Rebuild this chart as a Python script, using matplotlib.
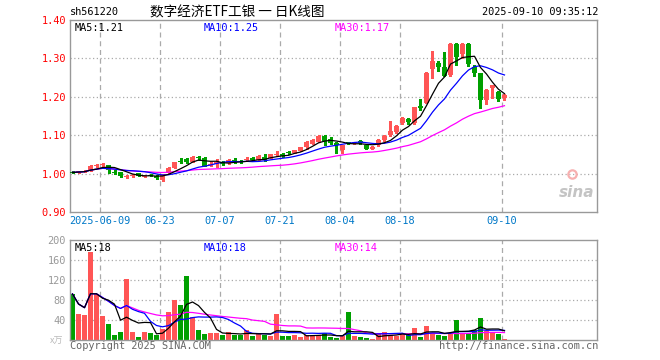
import numpy as np
import pandas as pd
import matplotlib
matplotlib.use("Agg")
import matplotlib.pyplot as plt

# -----------------------------------------
# Data (daily K-line, 73 sessions)
# -----------------------------------------
opens = [1.004, 1.004, 1.006, 1.009, 1.021, 1.023, 1.022, 1.004, 1.003, 0.993,
         0.994, 1.001, 0.993, 0.996, 0.995, 0.984, 1.001, 1.015, 1.033, 1.037,
         1.031, 1.042, 1.040, 1.024, 1.025, 1.031, 1.027, 1.036, 1.034, 1.036,
         1.041, 1.036, 1.044, 1.041, 1.050, 1.052, 1.055, 1.054, 1.060, 1.069,
         1.077, 1.082, 1.099, 1.090, 1.080, 1.062, 1.081, 1.080, 1.086, 1.074,
         1.065, 1.074, 1.087, 1.100, 1.108, 1.131, 1.142, 1.131, 1.176, 1.185,
         1.273, 1.287, 1.278, 1.256, 1.338, 1.311, 1.338, 1.278, 1.261, 1.192,
         1.222, 1.213, 1.196]
closes = [1.003, 1.005, 1.007, 1.021, 1.022, 1.024, 1.009, 1.003, 0.994, 0.994,
          0.995, 0.994, 0.994, 0.995, 0.989, 0.997, 1.015, 1.030, 1.032, 1.029,
          1.044, 1.041, 1.021, 1.025, 1.030, 1.025, 1.036, 1.031, 1.030, 1.037,
          1.035, 1.047, 1.036, 1.051, 1.051, 1.046, 1.054, 1.061, 1.069, 1.083,
          1.088, 1.099, 1.084, 1.079, 1.074, 1.074, 1.080, 1.081, 1.080, 1.065,
          1.070, 1.088, 1.099, 1.110, 1.125, 1.144, 1.135, 1.173, 1.170, 1.263,
          1.293, 1.277, 1.255, 1.338, 1.304, 1.338, 1.286, 1.262, 1.192, 1.219,
          1.231, 1.194, 1.205]
highs = [1.006, 1.007, 1.010, 1.022, 1.026, 1.028, 1.023, 1.009, 1.004, 0.996,
         0.998, 1.002, 0.997, 0.999, 0.996, 0.998, 1.016, 1.031, 1.041, 1.040,
         1.045, 1.046, 1.042, 1.029, 1.038, 1.033, 1.037, 1.040, 1.036, 1.042,
         1.043, 1.048, 1.051, 1.052, 1.058, 1.054, 1.058, 1.062, 1.070, 1.084,
         1.089, 1.100, 1.100, 1.096, 1.081, 1.075, 1.083, 1.083, 1.087, 1.075,
         1.071, 1.089, 1.100, 1.138, 1.126, 1.147, 1.146, 1.174, 1.193, 1.264,
         1.320, 1.292, 1.317, 1.339, 1.339, 1.339, 1.339, 1.284, 1.262, 1.220,
         1.232, 1.214, 1.207]
lows = [1.001, 1.002, 1.004, 1.008, 1.017, 1.017, 1.001, 0.998, 0.990, 0.988,
        0.992, 0.993, 0.990, 0.993, 0.987, 0.982, 1.000, 1.014, 1.027, 1.027,
        1.030, 1.036, 1.019, 1.020, 1.018, 1.022, 1.025, 1.027, 1.028, 1.033,
        1.033, 1.035, 1.032, 1.040, 1.045, 1.044, 1.050, 1.053, 1.059, 1.064,
        1.076, 1.081, 1.075, 1.077, 1.054, 1.054, 1.077, 1.078, 1.078, 1.064,
        1.063, 1.073, 1.086, 1.099, 1.107, 1.129, 1.129, 1.130, 1.165, 1.183,
        1.249, 1.268, 1.253, 1.254, 1.284, 1.300, 1.280, 1.254, 1.172, 1.181,
        1.196, 1.190, 1.192]
volumes = [92, 52, 50, 176, 92, 48, 32, 10, 16, 122,
           16, 6, 16, 14, 10, 22, 56, 80, 70, 128,
           46, 20, 12, 14, 14, 10, 16, 10, 10, 20,
           8, 14, 10, 8, 52, 8, 8, 10, 6, 10,
           10, 10, 14, 6, 4, 8, 56, 8, 6, 4,
           2, 14, 16, 10, 8, 12, 10, 24, 6, 28,
           14, 10, 8, 14, 40, 14, 12, 20, 44, 18,
           16, 12, 2]

date_labels = ["2025-06-09", "06-23", "07-07", "07-21", "08-04", "08-18", "09-10"]
date_index = [5, 15, 25, 35, 45, 55, 72]
price_ticks = [0.90, 1.00, 1.10, 1.20, 1.30, 1.40]
vol_ticks = [40, 80, 120, 160, 200]

RED = "#ff5555"
GREEN = "#00a000"
FRAME = "#999999"
GRID = "#aaaaaa"
MONO = "DejaVu Sans Mono"
W, H = 660, 360


def fx(x):
    return x / W


def fy(y):
    return 1 - y / H


o = np.array(opens)
c = np.array(closes)
hi = np.array(highs)
lo = np.array(lows)
vol = np.array(volumes)
n = len(c)
x = np.arange(n)
colors = [RED if cc >= oo else GREEN for oo, cc in zip(o, c)]

close_s = pd.Series(c)
ma5 = close_s.rolling(5, min_periods=1).mean()
ma10 = close_s.rolling(10, min_periods=1).mean()
ma30 = close_s.rolling(30, min_periods=1).mean()
vol_s = pd.Series(vol, dtype=float)
vma5 = vol_s.rolling(5, min_periods=1).mean()
vma10 = vol_s.rolling(10, min_periods=1).mean()
vma30 = vol_s.rolling(30, min_periods=1).mean()

fig = plt.figure(figsize=(6.6, 3.6), dpi=100)
ax1 = fig.add_axes([fx(70), fy(212), 527 / W, 192 / H])
ax2 = fig.add_axes([fx(70), fy(340), 527 / W, 100 / H])

xlim = (-0.42, 87.42)
vlines_x = [d - 0.42 for d in date_index]

for ax in (ax1, ax2):
    ax.set_xlim(*xlim)
    for s in ax.spines.values():
        s.set_color(FRAME)
        s.set_linewidth(1.0)
    for vx in vlines_x:
        ax.axvline(vx, color=GRID, lw=0.9, ls=(0, (4, 3)), zorder=0)

# ---------- price panel ----------
ax1.set_ylim(0.90, 1.40)
for g in [1.0, 1.1, 1.2, 1.3]:
    ax1.axhline(g, color=GRID, lw=0.9, ls=(0, (1, 2)), zorder=0)

ax1.vlines(x, lo, hi, colors=colors, lw=1.0, zorder=2, antialiased=False)
body = np.maximum(np.abs(c - o), 0.0028)
mid = (c + o) / 2
ax1.bar(x, body, bottom=mid - body / 2, width=0.82, color=colors, lw=0,
        zorder=3, antialiased=False)

ax1.plot(x, ma30, color="#ff00ff", lw=0.9, zorder=4)
ax1.plot(x, ma10, color="#0000ff", lw=0.9, zorder=4)
ax1.plot(x, ma5, color="black", lw=0.9, zorder=4)

ax1.set_yticks(price_ticks)
ax1.set_yticklabels([f"{t:.2f}" for t in price_ticks], color="red",
                    family=MONO, fontsize=7.4)
ax1.set_xticks(vlines_x)
ax1.set_xticklabels(date_labels, color="#0078c8", family=MONO, fontsize=7.4)
ax1.tick_params(length=0, pad=3)

ax1.text(0.008, 0.985, f"MA5:{ma5.iloc[-1]:.2f}", transform=ax1.transAxes,
         family=MONO, fontsize=7.4, color="black", va="top")
ax1.text(0.254, 0.985, f"MA10:{np.floor(ma10.iloc[-1] * 100) / 100:.2f}",
         transform=ax1.transAxes, family=MONO, fontsize=7.4, color="#0000ff", va="top")
ax1.text(0.502, 0.985, f"MA30:{np.floor(ma30.iloc[-1] * 100) / 100:.2f}",
         transform=ax1.transAxes, family=MONO, fontsize=7.4, color="#ff00ff", va="top")

# sina watermark
ax1.text(0.995, 0.1, "sina", transform=ax1.transAxes, ha="right", va="center",
         fontsize=11, color="#c4c4c4", style="italic", weight="bold", zorder=1)
ax1.plot([0.952], [0.2], transform=ax1.transAxes, marker="o", ms=6, mfc="none",
         mec="#f7b0b0", mew=1.6, zorder=1)

# ---------- volume panel ----------
ax2.set_ylim(0, 200)
for g in [40, 80, 120, 160]:
    ax2.axhline(g, color=GRID, lw=0.9, ls=(0, (1, 2)), zorder=0)
ax2.bar(x, vol, width=0.82, color=colors, lw=0, zorder=2, antialiased=False)
ax2.plot(x, vma30, color="#ff00ff", lw=0.9, zorder=3)
ax2.plot(x, vma10, color="#0000ff", lw=0.9, zorder=3)
ax2.plot(x, vma5, color="black", lw=0.9, zorder=3)

ax2.set_yticks(vol_ticks)
ax2.set_yticklabels([str(t) for t in vol_ticks], color="#999999",
                    family=MONO, fontsize=7.4)
ax2.set_xticks([])
ax2.tick_params(length=0, pad=3)

ax2.text(0.008, 0.97, f"MA5:{int(vma5.iloc[-1])}", transform=ax2.transAxes,
         family=MONO, fontsize=7.4, color="black", va="top")
ax2.text(0.254, 0.97, f"MA10:{int(vma10.iloc[-1]) - 1}", transform=ax2.transAxes,
         family=MONO, fontsize=7.4, color="#0000ff", va="top")
ax2.text(0.502, 0.97, f"MA30:{int(vma30.iloc[-1])}", transform=ax2.transAxes,
         family=MONO, fontsize=7.4, color="#ff00ff", va="top")

# ---------- header / footer texts ----------
fig.text(fx(70), fy(12), "sh561220", family=MONO, fontsize=7.4, va="center")
fig.text(fx(150), fy(12), "数字经济ETF工银 一 日K线图",
         family=["Noto Sans CJK SC", "DejaVu Sans"], fontsize=9.8, va="center")
fig.text(fx(598), fy(12), "2025-09-10 09:35:12", family=MONO, fontsize=7.4,
         va="center", ha="right")
fig.text(fx(50), fy(341), "x万", family=["Noto Sans CJK SC", "DejaVu Sans"],
         fontsize=6.5, color="#bbbbbb", va="center")
fig.text(fx(70), fy(346), "Copyright 2025 SINA.COM", family=MONO, fontsize=7.4,
         color="#666666", va="center")
fig.text(fx(598), fy(346), "http://finance.sina.com.cn", family=MONO, fontsize=7.4,
         color="#666666", va="center", ha="right")

fig.savefig("out.png", dpi=100)
